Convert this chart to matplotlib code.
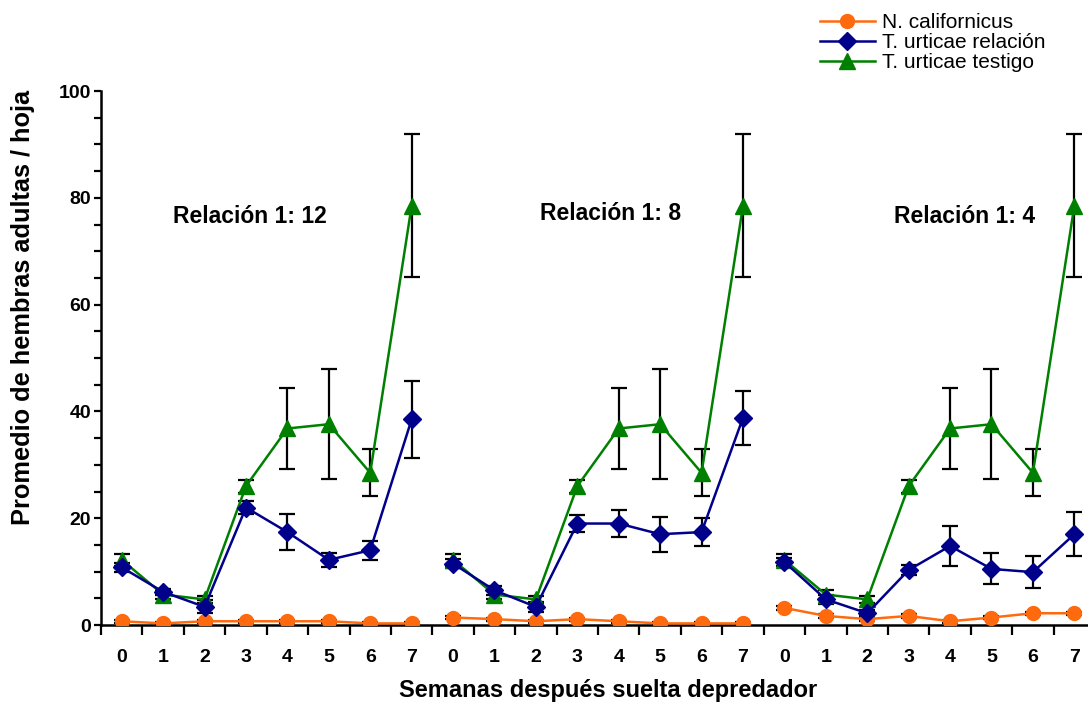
import matplotlib
matplotlib.use("Agg")
import matplotlib.pyplot as plt
import numpy as np
from matplotlib.ticker import MultipleLocator, FixedLocator

plt.rcParams['font.family'] = ['Liberation Sans', 'DejaVu Sans']

weeks = [0, 1, 2, 3, 4, 5, 6, 7]
panels = ["Relación 1: 12", "Relación 1: 8", "Relación 1: 4"]

# N. californicus (mean, error) per panel
nc_12 = [0.7, 0.3, 0.7, 0.7, 0.7, 0.7, 0.3, 0.3]
nc_8 = [1.4, 1.1, 0.7, 1.1, 0.7, 0.3, 0.3, 0.3]
nc_4 = [3.2, 1.7, 1.1, 1.7, 0.7, 1.4, 2.2, 2.2]
nc_err = [0.3, 0.3, 0.3, 0.3, 0.3, 0.3, 0.3, 0.3]

# T. urticae relación
tu_12 = [10.8, 6.2, 3.4, 22.0, 17.4, 12.2, 14.0, 38.5]
tu_12_err = [0.8, 0.6, 1.2, 1.2, 3.4, 1.3, 1.8, 7.2]
tu_8 = [11.5, 6.5, 3.4, 19.0, 19.0, 17.0, 17.4, 38.8]
tu_8_err = [0.8, 0.8, 1.0, 1.6, 2.6, 3.3, 2.6, 5.0]
tu_4 = [11.8, 4.8, 2.2, 10.3, 14.8, 10.5, 9.9, 17.0]
tu_4_err = [0.8, 0.8, 0.6, 1.0, 3.8, 2.9, 3.0, 4.1]

# T. urticae testigo (control)
ctl = [12.2, 5.7, 4.8, 26.0, 36.8, 37.6, 28.5, 78.5]
ctl_err = [1.1, 0.8, 0.7, 1.2, 7.6, 10.3, 4.4, 13.4]

nc_all = nc_12 + nc_8 + nc_4
tu_all = tu_12 + tu_8 + tu_4
tu_err_all = tu_12_err + tu_8_err + tu_4_err

fig = plt.figure(figsize=(10.88, 7.15), dpi=100)
ax = fig.add_axes([101/1088, 1-625/715, 1-101/1088, (625-91)/715])

orange = '#FF6A0F'
navy = '#00008B'
green = '#008000'
ekw = dict(ecolor='black', elinewidth=1.6, capsize=6, capthick=1.6)

for p in range(3):
    xs = np.arange(8) + 8*p
    ax.errorbar(xs, ctl, yerr=ctl_err, fmt='none', zorder=2, **ekw)
    ax.errorbar(xs, tu_all[8*p:8*p+8], yerr=tu_err_all[8*p:8*p+8], fmt='none', zorder=2, **ekw)
    ax.errorbar(xs, nc_all[8*p:8*p+8], yerr=nc_err, fmt='none', zorder=2, **ekw)
    l1, = ax.plot(xs, nc_all[8*p:8*p+8], '-o', color=orange, lw=1.8, ms=10, zorder=3,
                  label='N. californicus')
    l2, = ax.plot(xs, tu_all[8*p:8*p+8], '-D', color=navy, lw=1.8, ms=9, zorder=4,
                  label='T. urticae relación')
    l3, = ax.plot(xs, ctl, '-^', color=green, lw=1.8, ms=11, zorder=3,
                  label='T. urticae testigo')

text_pos = [(3.1, 76.5), (11.8, 77.0), (20.35, 76.5)]
for (tx, ty), t in zip(text_pos, panels):
    ax.text(tx, ty, t, fontsize=16.5, fontweight='bold', ha='center', va='center')

ax.set_xlim(-0.5, 23.33)
ax.set_ylim(0, 100)
ax.set_xticks(np.arange(24))
ax.set_xticklabels([str(w) for w in weeks] * 3, fontsize=14, fontweight='bold')
ax.xaxis.set_minor_locator(FixedLocator(np.arange(-0.5, 23.5, 1)))
ax.tick_params(axis='x', which='major', length=0, pad=17)
ax.tick_params(axis='x', which='minor', length=7, width=1.6, direction='out')
ax.yaxis.set_major_locator(MultipleLocator(20))
ax.yaxis.set_minor_locator(MultipleLocator(5))
ax.tick_params(axis='y', which='both', length=5, width=1.6, direction='out', pad=2)
for lab in ax.get_yticklabels():
    lab.set_fontsize(14)
    lab.set_fontweight('bold')
for s in ['top', 'right']:
    ax.spines[s].set_visible(False)
for s in ['left', 'bottom']:
    ax.spines[s].set_linewidth(1.8)

ax.set_ylabel('Promedio de hembras adultas / hoja', fontsize=18.3, fontweight='bold')
ax.yaxis.set_label_coords(-66/987, (625-307)/534)
ax.set_xlabel('Semanas después suelta depredador', fontsize=17, fontweight='bold', labelpad=12)
ax.xaxis.set_label_coords((608-101)/987, -(690-625)/534)
ax.xaxis.label.set_va('center')

fig.legend(handles=[l1, l2, l3], loc='upper left', bbox_to_anchor=(812/1088, 1 - 5/715),
           frameon=False, fontsize=15, handlelength=2.6, handletextpad=0.35,
           labelspacing=0.05, borderaxespad=0)

fig.savefig('out.png', dpi=100)
